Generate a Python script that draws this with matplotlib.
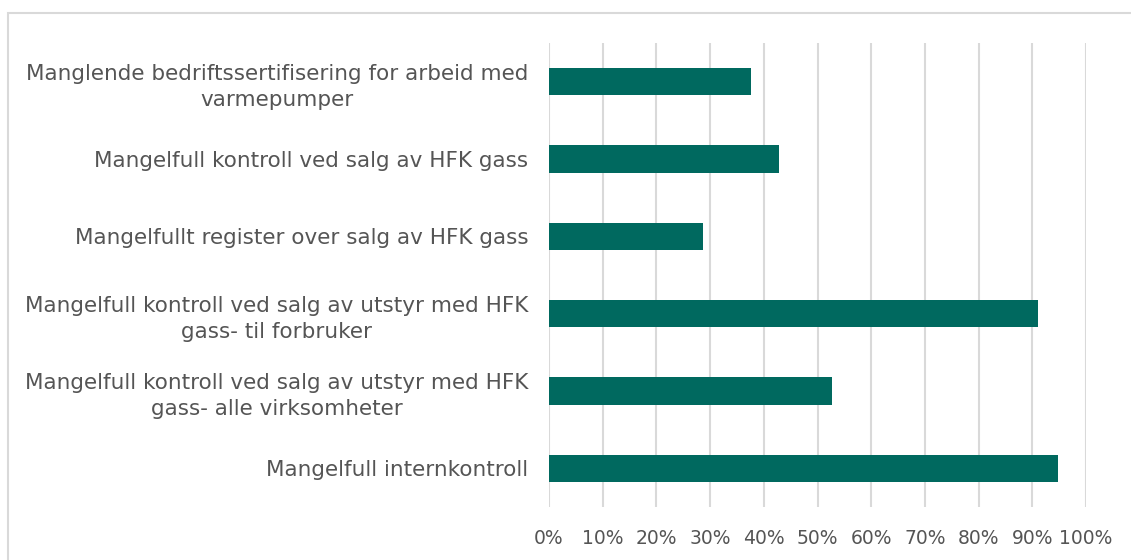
import matplotlib.pyplot as plt
from matplotlib.ticker import PercentFormatter

categories = [
    "Manglende bedriftssertifisering for arbeid med\nvarmepumper",
    "Mangelfull kontroll ved salg av HFK gass",
    "Mangelfullt register over salg av HFK gass",
    "Mangelfull kontroll ved salg av utstyr med HFK\ngass- til forbruker",
    "Mangelfull kontroll ved salg av utstyr med HFK\ngass- alle virksomheter",
    "Mangelfull internkontroll",
]
values = [0.376, 0.429, 0.286, 0.910, 0.527, 0.948]

bar_color = '#00695F'
text_color = '#555555'
grid_color = '#D9D9D9'

fig = plt.figure(figsize=(11.31, 5.6), dpi=100)

# light frame round the chart (only top and left visible in the original)
frame = plt.Rectangle((8 / 1131, -0.1), 1.2, 1 - 13 / 560 + 0.1, transform=fig.transFigure,
                      fill=False, edgecolor=grid_color, linewidth=1.5)
fig.add_artist(frame)

ax = fig.add_axes([549 / 1131, 1 - 507 / 560, 537 / 1131, 464 / 560])  # llx, lly, w, h
ypos = list(range(len(categories)))[::-1]
ax.barh(ypos, values, height=0.35, color=bar_color, zorder=3)

ax.set_xlim(0, 1)
ax.set_ylim(-0.5, len(categories) - 0.5)
ax.set_xticks([i / 10 for i in range(11)])
ax.xaxis.set_major_formatter(PercentFormatter(1.0, decimals=0))
ax.set_yticks(ypos)
ax.set_yticklabels(categories, multialignment='center', linespacing=1.4)

ax.grid(axis='x', color=grid_color, linewidth=1.5, zorder=0)
for s in ax.spines.values():
    s.set_visible(False)
ax.tick_params(axis='both', length=0, colors=text_color)
ax.tick_params(axis='y', pad=15, labelsize=15.5)
ax.tick_params(axis='x', pad=16, labelsize=13.5)

fig.savefig('out.png', dpi=100)
